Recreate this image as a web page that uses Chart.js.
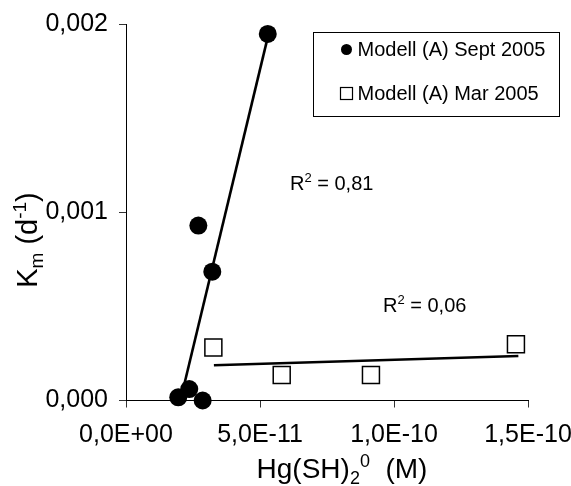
<!DOCTYPE html>
<html><head><meta charset="utf-8">
<script src="https://cdn.jsdelivr.net/npm/chart.js@4.4.0/dist/chart.umd.min.js"></script>
<style>html,body{margin:0;padding:0;background:#fff}#wrap{width:571px;height:486px}</style>
</head><body><div id="wrap"><canvas id="c" width="571" height="486"></canvas></div>
<script>
// ---- data ----
const seriesNames = ['Modell (A) Sept 2005', 'Modell (A) Mar 2005'];
const septX = [1.95e-11, 2.36e-11, 2.86e-11, 2.70e-11, 3.22e-11, 5.29e-11];
const septY = [0.000017, 0.000061, 0.0, 0.000929, 0.000684, 0.001947];
const marX = [3.26e-11, 5.81e-11, 9.14e-11, 14.55e-11];
const marY = [0.000281, 0.000135, 0.000135, 0.000299];
const trendSeptX = [2.03e-11, 5.29e-11];
const trendSeptY = [0.0, 0.00193];
const trendMarX = [3.28e-11, 14.64e-11];
const trendMarY = [0.000187, 0.000236];
const r2Values = ['0,81', '0,06'];
const xTicks = [0, 5e-11, 1e-10, 1.5e-10];
const xTickLabels = ['0,0E+00', '5,0E-11', '1,0E-10', '1,5E-10'];
const yTicks = [0, 0.001, 0.002];
const yTickLabels = ['0,000', '0,001', '0,002'];

const FONT = "'Liberation Sans', Arial, sans-serif";
const toPts = (xs, ys) => xs.map((x, i) => ({x: x, y: ys[i]}));

function drawRich(ctx, segs, size, x, y, align) {
  const parts = segs.map(s => {
    const fs = s[1] === 'n' ? size : Math.round(size * 0.65);
    ctx.font = fs + 'px ' + FONT;
    return {t: s[0], m: s[1], fs: fs, w: ctx.measureText(s[0]).width};
  });
  const total = parts.reduce((a, p) => a + p.w, 0);
  let cx = align === 'center' ? x - total / 2 : x;
  ctx.textAlign = 'left';
  ctx.textBaseline = 'alphabetic';
  parts.forEach(p => {
    ctx.font = p.fs + 'px ' + FONT;
    const dy = p.m === 'sub' ? size * 0.22 : (p.m === 'sup' ? -size * 0.38 : 0);
    ctx.fillText(p.t, cx, y + dy);
    cx += p.w;
  });
}

const extras = {
  id: 'extras',
  afterDraw(chart) {
    const ctx = chart.ctx;
    const ca = chart.chartArea;
    const xs = chart.scales.x, ys = chart.scales.y;
    ctx.save();
    ctx.fillStyle = '#000';
    // axis titles
    drawRich(ctx, [['Hg(SH)', 'n'], ['2', 'sub'], ['0', 'sup'], ['  (M)', 'n']], 28, 342, 478, 'center');
    ctx.save();
    ctx.translate(37, 240);
    ctx.rotate(-Math.PI / 2);
    drawRich(ctx, [['K', 'n'], ['m', 'sub'], [' (d', 'n'], ['-1', 'sup'], [')', 'n']], 29, 0, 0, 'center');
    ctx.restore();
    // R² labels (anchored in value space)
    const r2Pos = [[6.12e-11, 0.00112], [9.59e-11, 0.00047]];
    r2Values.forEach((v, i) => {
      drawRich(ctx, [['R', 'n'], ['2', 'sup'], [' = ' + v, 'n']], 20,
        xs.getPixelForValue(r2Pos[i][0]), ys.getPixelForValue(r2Pos[i][1]), 'left');
    });
    // legend
    const lx = ca.left + 187.5, ly = ca.top + 8.5, lw = 246, lh = 84;
    ctx.strokeStyle = '#000';
    ctx.lineWidth = 1;
    ctx.strokeRect(lx, ly, lw, lh);
    const rows = [ly + 17, ly + 61];
    chart.data.datasets.filter(d => d.label).forEach((d, i) => {
      const cy = rows[i], mx = lx + 33;
      if (d.pointStyle === 'circle') {
        ctx.beginPath(); ctx.arc(mx, cy, 5.5, 0, Math.PI * 2); ctx.fillStyle = '#000'; ctx.fill();
      } else {
        ctx.fillStyle = '#fff'; ctx.fillRect(mx - 6, cy - 6, 12, 12);
        ctx.strokeStyle = '#000'; ctx.lineWidth = 1.2; ctx.strokeRect(mx - 6, cy - 6, 12, 12);
      }
      ctx.fillStyle = '#000';
      ctx.font = '20px ' + FONT;
      ctx.textAlign = 'left'; ctx.textBaseline = 'middle';
      ctx.fillText(d.label, mx + 11, cy + 1);
    });
    ctx.restore();
  }
};

new Chart(document.getElementById('c'), {
  type: 'scatter',
  data: {
    datasets: [
      {label: seriesNames[0], data: toPts(septX, septY), pointStyle: 'circle', pointRadius: 9,
       backgroundColor: '#000', borderColor: '#000', borderWidth: 0, clip: false, order: 2},
      {label: seriesNames[1], data: toPts(marX, marY), pointStyle: 'rect', pointRadius: 12,
       backgroundColor: '#fff', borderColor: '#000', borderWidth: 1.5, clip: false, order: 2},
      {type: 'line', data: toPts(trendSeptX, trendSeptY), borderColor: '#000', borderWidth: 2.6,
       pointRadius: 0, fill: false, clip: false, order: 1},
      {type: 'line', data: toPts(trendMarX, trendMarY), borderColor: '#000', borderWidth: 2.6,
       pointRadius: 0, fill: false, clip: false, order: 1}
    ]
  },
  options: {
    responsive: false,
    animation: false,
    devicePixelRatio: 1,
    layout: {padding: {top: 24, right: 43, left: 0, bottom: 0}},
    plugins: {legend: {display: false}, tooltip: {enabled: false}},
    scales: {
      x: {
        type: 'linear', min: 0, max: 1.5e-10,
        afterBuildTicks: s => { s.ticks = xTicks.map(v => ({value: v})); },
        afterFit: s => { s.height = 85.5; s.paddingLeft = 0; s.paddingRight = 0; },
        ticks: {callback: (v, i) => xTickLabels[i], color: '#000', padding: 13,
                font: {family: FONT, size: 25}, maxRotation: 0},
        grid: {drawOnChartArea: false, drawTicks: true, tickLength: 7, color: '#333', lineWidth: 1},
        border: {color: '#000', width: 1}
      },
      y: {
        type: 'linear', min: 0, max: 0.002,
        afterBuildTicks: s => { s.ticks = yTicks.map(v => ({value: v})); },
        afterFit: s => { s.width = 126; s.paddingTop = 0; s.paddingBottom = 0; },
        ticks: {callback: (v, i) => yTickLabels[i], color: '#000', padding: 11,
                font: {family: FONT, size: 25}},
        grid: {drawOnChartArea: false, drawTicks: true, tickLength: 7, color: '#333', lineWidth: 1},
        border: {color: '#000', width: 1}
      }
    }
  },
  plugins: [extras]
});
</script>
</body></html>
